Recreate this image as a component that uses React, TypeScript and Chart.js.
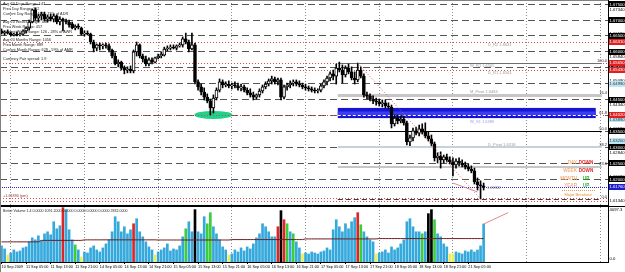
import React, { useEffect, useRef } from "react";
import { Chart, registerables } from "chart.js";
Chart.register(...registerables);

// ---------- hourly GBPUSD candles, 10 Sep 2009 21:00 -> 21 Sep 2009 10:00 ----------
const openP = [
  1.6666, 1.6659, 1.6663, 1.6659, 1.6653, 1.6656, 1.6653, 1.6656, 1.6666, 1.6675,
  1.6694, 1.6732, 1.6706, 1.6713, 1.6719, 1.6703, 1.6710, 1.6703, 1.6713, 1.6694,
  1.6703, 1.6697, 1.6694, 1.6688, 1.6675, 1.6681, 1.6675, 1.6656, 1.6659, 1.6656,
  1.6631, 1.6612, 1.6622, 1.6619, 1.6622, 1.6619, 1.6606, 1.6587, 1.6562, 1.6568,
  1.6549, 1.6543, 1.6546, 1.6540, 1.6600, 1.6622, 1.6587, 1.6578, 1.6562, 1.6575,
  1.6568, 1.6581, 1.6587, 1.6590, 1.6609, 1.6612, 1.6615, 1.6612, 1.6619, 1.6622,
  1.6641, 1.6631, 1.6609, 1.6622, 1.6506, 1.6490, 1.6474, 1.6458, 1.6446, 1.6424,
  1.6455, 1.6480, 1.6506, 1.6496, 1.6499, 1.6493, 1.6496, 1.6493, 1.6487, 1.6490,
  1.6480, 1.6471, 1.6465, 1.6458, 1.6465, 1.6477, 1.6490, 1.6499, 1.6509, 1.6515,
  1.6506, 1.6512, 1.6458, 1.6490, 1.6496, 1.6502, 1.6506, 1.6499, 1.6496, 1.6490,
  1.6487, 1.6484, 1.6480, 1.6477, 1.6480, 1.6493, 1.6506, 1.6518, 1.6531, 1.6524,
  1.6549, 1.6543, 1.6528, 1.6549, 1.6537, 1.6518, 1.6512, 1.6543, 1.6524, 1.6465,
  1.6462, 1.6452, 1.6446, 1.6443, 1.6437, 1.6440, 1.6430, 1.6427, 1.6374, 1.6392,
  1.6383, 1.6389, 1.6377, 1.6317, 1.6330, 1.6352, 1.6345, 1.6358, 1.6348, 1.6336,
  1.6327, 1.6311, 1.6267, 1.6273, 1.6261, 1.6270, 1.6261, 1.6254, 1.6245, 1.6257,
  1.6251, 1.6245, 1.6239, 1.6232, 1.6226, 1.6192, 1.6182, 1.6179,
];
const highP = [
  1.6672, 1.6666, 1.6669, 1.6663, 1.6659, 1.6663, 1.6659, 1.6669, 1.6678, 1.6700,
  1.6735, 1.6738, 1.6719, 1.6725, 1.6725, 1.6716, 1.6719, 1.6719, 1.6716, 1.6710,
  1.6706, 1.6703, 1.6700, 1.6694, 1.6685, 1.6688, 1.6678, 1.6666, 1.6666, 1.6659,
  1.6637, 1.6625, 1.6628, 1.6625, 1.6628, 1.6625, 1.6609, 1.6597, 1.6575, 1.6571,
  1.6556, 1.6553, 1.6556, 1.6606, 1.6631, 1.6625, 1.6593, 1.6587, 1.6581, 1.6581,
  1.6584, 1.6593, 1.6600, 1.6615, 1.6619, 1.6622, 1.6622, 1.6622, 1.6628, 1.6647,
  1.6659, 1.6637, 1.6659, 1.6628, 1.6512, 1.6499, 1.6487, 1.6468, 1.6452, 1.6465,
  1.6487, 1.6515, 1.6512, 1.6506, 1.6509, 1.6502, 1.6506, 1.6502, 1.6499, 1.6496,
  1.6487, 1.6484, 1.6474, 1.6468, 1.6484, 1.6496, 1.6506, 1.6515, 1.6524, 1.6521,
  1.6518, 1.6518, 1.6496, 1.6502, 1.6509, 1.6512, 1.6512, 1.6509, 1.6502, 1.6499,
  1.6493, 1.6490, 1.6487, 1.6484, 1.6499, 1.6512, 1.6524, 1.6537, 1.6543, 1.6562,
  1.6568, 1.6559, 1.6556, 1.6562, 1.6553, 1.6537, 1.6565, 1.6553, 1.6531, 1.6474,
  1.6468, 1.6462, 1.6455, 1.6452, 1.6449, 1.6449, 1.6440, 1.6433, 1.6402, 1.6402,
  1.6399, 1.6399, 1.6383, 1.6339, 1.6361, 1.6364, 1.6370, 1.6374, 1.6377, 1.6348,
  1.6339, 1.6317, 1.6283, 1.6286, 1.6276, 1.6279, 1.6270, 1.6267, 1.6264, 1.6267,
  1.6261, 1.6254, 1.6248, 1.6242, 1.6235, 1.6204, 1.6195, 1.6188,
];
const lowP = [
  1.6656, 1.6653, 1.6656, 1.6650, 1.6650, 1.6650, 1.6650, 1.6653, 1.6659, 1.6669,
  1.6691, 1.6700, 1.6694, 1.6700, 1.6697, 1.6694, 1.6697, 1.6694, 1.6688, 1.6685,
  1.6666, 1.6688, 1.6678, 1.6672, 1.6669, 1.6672, 1.6653, 1.6650, 1.6653, 1.6625,
  1.6600, 1.6603, 1.6606, 1.6609, 1.6612, 1.6600, 1.6581, 1.6559, 1.6553, 1.6543,
  1.6531, 1.6534, 1.6534, 1.6534, 1.6587, 1.6581, 1.6568, 1.6556, 1.6556, 1.6562,
  1.6565, 1.6578, 1.6581, 1.6587, 1.6603, 1.6606, 1.6609, 1.6606, 1.6615, 1.6615,
  1.6625, 1.6600, 1.6606, 1.6499, 1.6480, 1.6465, 1.6449, 1.6440, 1.6402, 1.6408,
  1.6449, 1.6474, 1.6487, 1.6490, 1.6487, 1.6484, 1.6487, 1.6480, 1.6477, 1.6474,
  1.6465, 1.6458, 1.6449, 1.6452, 1.6458, 1.6471, 1.6484, 1.6493, 1.6499, 1.6499,
  1.6496, 1.6449, 1.6452, 1.6480, 1.6487, 1.6493, 1.6493, 1.6490, 1.6484, 1.6480,
  1.6477, 1.6474, 1.6471, 1.6471, 1.6474, 1.6487, 1.6496, 1.6509, 1.6512, 1.6499,
  1.6537, 1.6502, 1.6521, 1.6531, 1.6512, 1.6499, 1.6506, 1.6518, 1.6458, 1.6452,
  1.6446, 1.6437, 1.6433, 1.6430, 1.6427, 1.6424, 1.6421, 1.6361, 1.6367, 1.6374,
  1.6377, 1.6370, 1.6308, 1.6305, 1.6320, 1.6339, 1.6336, 1.6342, 1.6330, 1.6320,
  1.6305, 1.6257, 1.6251, 1.6235, 1.6251, 1.6254, 1.6248, 1.6210, 1.6235, 1.6242,
  1.6239, 1.6232, 1.6226, 1.6220, 1.6185, 1.6166, 1.6138, 1.6166,
];
const closeP = [
  1.6659, 1.6663, 1.6659, 1.6653, 1.6656, 1.6653, 1.6656, 1.6666, 1.6675, 1.6694,
  1.6732, 1.6706, 1.6713, 1.6719, 1.6703, 1.6710, 1.6703, 1.6713, 1.6694, 1.6703,
  1.6697, 1.6694, 1.6685, 1.6675, 1.6681, 1.6678, 1.6656, 1.6659, 1.6656, 1.6631,
  1.6612, 1.6622, 1.6619, 1.6622, 1.6619, 1.6606, 1.6587, 1.6562, 1.6568, 1.6549,
  1.6543, 1.6546, 1.6540, 1.6600, 1.6622, 1.6587, 1.6578, 1.6562, 1.6575, 1.6568,
  1.6581, 1.6587, 1.6593, 1.6609, 1.6612, 1.6615, 1.6612, 1.6619, 1.6622, 1.6641,
  1.6631, 1.6609, 1.6622, 1.6506, 1.6490, 1.6474, 1.6458, 1.6446, 1.6424, 1.6455,
  1.6480, 1.6506, 1.6496, 1.6499, 1.6493, 1.6496, 1.6493, 1.6487, 1.6490, 1.6480,
  1.6471, 1.6465, 1.6458, 1.6465, 1.6477, 1.6490, 1.6499, 1.6509, 1.6515, 1.6506,
  1.6512, 1.6458, 1.6490, 1.6496, 1.6502, 1.6506, 1.6499, 1.6496, 1.6490, 1.6487,
  1.6484, 1.6480, 1.6477, 1.6480, 1.6493, 1.6506, 1.6518, 1.6531, 1.6524, 1.6549,
  1.6543, 1.6528, 1.6549, 1.6537, 1.6518, 1.6512, 1.6543, 1.6524, 1.6465, 1.6462,
  1.6452, 1.6446, 1.6443, 1.6437, 1.6440, 1.6430, 1.6427, 1.6374, 1.6392, 1.6383,
  1.6389, 1.6377, 1.6317, 1.6330, 1.6352, 1.6345, 1.6358, 1.6348, 1.6336, 1.6327,
  1.6311, 1.6267, 1.6273, 1.6261, 1.6270, 1.6261, 1.6254, 1.6245, 1.6257, 1.6251,
  1.6245, 1.6239, 1.6232, 1.6226, 1.6192, 1.6182, 1.6179, 1.6176,
];

// ---------- Better Volume ----------
const volumes = [
  1200, 975, 525, 675, 900, 750, 825, 1050, 1125, 1500,
  1800, 1650, 1950, 1575, 2100, 2250, 2025, 3000, 2475, 2700,
  4050, 3900, 2400, 1650, 1275, 900, 375, 750, 675, 1050,
  1200, 900, 750, 1050, 1350, 1650, 2250, 3375, 3000, 2250,
  2625, 2100, 2400, 2850, 3225, 2250, 1875, 1500, 1125, 900,
  525, 750, 900, 1050, 1350, 825, 975, 900, 1200, 1875,
  2475, 3000, 2250, 3900, 2250, 2100, 3375, 2850, 3675, 2625,
  2100, 1650, 1125, 900, 525, 600, 900, 750, 1050, 825,
  1125, 975, 1350, 1800, 2100, 2850, 2625, 2250, 1875, 1875,
  2625, 3825, 3150, 2850, 2250, 2100, 1500, 1050, 600, 675,
  600, 750, 675, 600, 750, 825, 1050, 900, 2400, 3150,
  2625, 2250, 2850, 2475, 3000, 3300, 3675, 2775, 2250, 1875,
  1650, 1500, 600, 675, 750, 900, 675, 1125, 900, 1050,
  1350, 1650, 3000, 3225, 2625, 2250, 2250, 2100, 2250, 3600,
  3900, 3150, 2100, 1875, 1350, 1125, 600, 600, 750, 675,
  600, 825, 750, 900, 750, 900, 1200, 2832,
];
// N normal, L low, R climax, G churn, K climax churn
const volTypes = [
  "NNLNNNNNNN", "NNNNNNNNNN", "RNNNGNLNNN", "NNNNNNNNNN", "NNNRNNNNNN",
  "LNNNNNNNNN", "GNNKNNNGGN", "NNNNLNNNNN", "NNNNNNNNNN", "RKRGNGNNLN",
  "NNNNNNNNNN", "NNNNNNRGNN", "NNLNNNNNNN", "NNNNNNNGNK", "KGNNNNLLNN",
  "NNNNNNNN",
].join("").split("");
const volAvg = [
  1500, 1500, 1500, 1500, 1500, 1500, 1500, 1500, 1500, 1500,
  1500, 1500, 1500, 1610, 1610, 1610, 1610, 1610, 1610, 1610,
  1610, 1610, 1610, 1610, 1610, 1610, 1610, 1650, 1650, 1650,
  1650, 1650, 1650, 1650, 1650, 1650, 1650, 1650, 1650, 1650,
  1650, 1650, 1650, 1650, 1650, 1650, 1650, 1650, 1650, 1650,
  1650, 1640, 1640, 1640, 1640, 1640, 1640, 1640, 1640, 1640,
  1640, 1640, 1640, 1640, 1640, 1640, 1640, 1640, 1640, 1640,
  1640, 1640, 1640, 1640, 1640, 1670, 1670, 1670, 1670, 1670,
  1670, 1670, 1670, 1670, 1670, 1670, 1670, 1670, 1670, 1670,
  1670, 1670, 1670, 1670, 1670, 1670, 1670, 1670, 1670, 1720,
  1720, 1720, 1720, 1720, 1720, 1720, 1720, 1720, 1720, 1720,
  1720, 1720, 1720, 1720, 1720, 1720, 1720, 1720, 1720, 1720,
  1720, 1720, 1720, 1745, 1745, 1745, 1745, 1745, 1745, 1745,
  1745, 1745, 1745, 1745, 1745, 1745, 1745, 1745, 1745, 1745,
  1745, 1745, 1745, 1745, 1745, 1745, 1745, 1745, 1745, 1745,
  1745, 1745, 1745, 1745, 1745, 1745, 1745, 1745,
];

// ---------- axis / level data ----------
const xTickLabels = [
  "10 Sep 2009", "11 Sep 05:00", "11 Sep 13:00", "11 Sep 21:00", "14 Sep 05:00",
  "14 Sep 13:00", "14 Sep 21:00", "15 Sep 05:00", "15 Sep 13:00", "15 Sep 21:00",
  "16 Sep 05:00", "16 Sep 13:00", "16 Sep 21:00", "17 Sep 05:00", "17 Sep 13:00",
  "17 Sep 21:00", "18 Sep 05:00", "18 Sep 13:00", "18 Sep 21:00", "21 Sep 05:00",
];
const gridLevels = [1.675, 1.67, 1.665, 1.66, 1.655, 1.65, 1.645, 1.64, 1.635, 1.63, 1.625, 1.62];
const scaleLevels = [1.6734, 1.6659, 1.6584, 1.6509, 1.6434, 1.6359, 1.6284, 1.6209, 1.6134];
const resLevels = [1.6631, 1.6565, 1.6543, 1.6402];
const lowDotLevels = [1.6141, 1.6132];
const pivotAxisLevels = [1.6499, 1.6389, 1.632];
const pivotNames = ["D_R2", "W_R1", "D_R1", "M_Pivot", "W_S1", "D_Pivot"];
const pivotPrices = [1.6631, 1.6565, 1.6543, 1.6484, 1.6389, 1.6318];
const fibRatios = [0, 23.6, 38.2, 50, 61.8, 76.4, 100];
const fibHighBar = 116;
const fibLowBar = 156;
const fibSpan = [109.5, 195.5];
const bandBars = [109.5, 193.5];
const bandPrices = [1.6424, 1.6392];
const trendLine = [[147, 1.6188], [155, 1.616]];
const volTrendLine = [[157, 2832], [165, 3680]];
const ellipseBar = 69;
const ellipseLowBar = 68;
const infoLines = [
  "Avg 20 Days Range: 147", "Prev Day Range: 102", "Current Day Range: 113 - 77% of ADR",
  "Avg 20 Weeks Range: 446", "Prev Week Range: 457", "Current Week Range: 126 - 28% of AWR",
  "Avg 20 Months Range: 1056", "Prev Month Range: 889", "Current Month Range: 628 - 59% of AMR",
  "Currency Pair spread: 1.9",
];
const trendWords = ["DAY", "WEEK", "MONTH", "YEAR"];
const trendStates = ["DOWN", "DOWN", "UP", "UP"];
const volHeader = "Better Volume 1.4 0.0000 1091.2000 0.0000 0.0000 0.0000 0.0000 2832.0000";
const PRICE_MAX = 1.6763;
const PRICE_MIN = 1.6119;
const VOL_MAX = 4097.3;
const N_SLOTS = 198;

const slotLabels = Array.from({ length: N_SLOTS }, (_, i) => i);
const FONT = '"Liberation Sans", Arial, sans-serif';
const f = (s: number, b = false) => `${b ? "bold " : ""}${s}px ${FONT}`;
const volColor: Record<string, string> = { N: "#35a8dc", L: "#eeee55", R: "#e02424", G: "#3ccc3c", K: "#000000" };
const dayGridColor = (c: any) => ((c.index - 3) % 24 === 0 ? "#8c8c8c" : "rgba(0,0,0,0)");

function hline(ctx: CanvasRenderingContext2D, x0: number, x1: number, y: number) {
  ctx.beginPath();
  ctx.moveTo(x0, y);
  ctx.lineTo(x1, y);
  ctx.stroke();
}
const snap = (v: number) => Math.round(v) + 0.5;

function axisLabel(ctx: CanvasRenderingContext2D, a: any, yy: number, text: string, bg: string | null, fg: string) {
  const x0 = a.right + 1;
  if (bg) {
    ctx.fillStyle = bg;
    ctx.fillRect(x0, Math.round(yy - 3), 16, 6);
  }
  ctx.fillStyle = fg;
  ctx.font = f(4.2);
  ctx.textAlign = "left";
  ctx.textBaseline = "middle";
  ctx.fillText(text, x0 + 0.5, yy + 0.3);
}

const fibStyle = (r: number) =>
  r === 100 ? { c: "#6e6e6e", w: 1, d: [] as number[] }
  : r === 76.4 ? { c: "#c6c6c6", w: 3, d: [] }
  : r === 61.8 ? { c: "#ffffff", w: 1, d: [3, 2] }
  : r === 50 ? { c: "#000000", w: 1, d: [] }
  : r === 38.2 ? { c: "#c4d2da", w: 2, d: [] }
  : r === 23.6 ? { c: "#c6c6c6", w: 2, d: [] }
  : { c: "#3c3c3c", w: 1, d: [5, 3] };

const mainOverlay = {
  id: "mainOverlay",
  beforeDatasetsDraw(chart: any) {
    const { ctx, chartArea: a } = chart;
    const x = chart.scales.x, y = chart.scales.y;
    const fibHigh = highP[fibHighBar], fibLow = lowP[fibLowBar];
    ctx.save();
    ctx.beginPath();
    ctx.rect(a.left, a.top, a.right - a.left, a.bottom - a.top);
    ctx.clip();
    // green ellipse at the 15 Sep low
    ctx.fillStyle = "#1ed28c";
    ctx.beginPath();
    ctx.ellipse(x.getPixelForValue(ellipseBar), y.getPixelForValue(lowP[ellipseLowBar]), 19, 4, 0, 0, Math.PI * 2);
    ctx.fill();
    // red dotted levels
    ctx.lineWidth = 1;
    ctx.strokeStyle = "#d24a4a";
    ctx.setLineDash([1, 2]);
    [...resLevels, ...lowDotLevels].forEach((p) => hline(ctx, a.left, a.right, snap(y.getPixelForValue(p))));
    // blue zone
    ctx.setLineDash([]);
    const bx0 = x.getPixelForValue(bandBars[0]), bx1 = x.getPixelForValue(bandBars[1]);
    const by0 = y.getPixelForValue(bandPrices[0]), by1 = y.getPixelForValue(bandPrices[1]);
    ctx.fillStyle = "#1616d2";
    ctx.fillRect(bx0, by0, bx1 - bx0, by1 - by0);
    ctx.fillStyle = "#3c3cf4";
    ctx.fillRect(bx0, by0 + (by1 - by0) * 0.35, bx1 - bx0, (by1 - by0) * 0.35);
    // fibonacci levels
    const fx0 = x.getPixelForValue(fibSpan[0]), fx1 = x.getPixelForValue(fibSpan[1]);
    fibRatios.forEach((r) => {
      const st = fibStyle(r);
      const p = fibLow + ((fibHigh - fibLow) * r) / 100;
      ctx.strokeStyle = st.c;
      ctx.lineWidth = st.w;
      ctx.setLineDash(st.d);
      const yy = st.w % 2 ? snap(y.getPixelForValue(p)) : Math.round(y.getPixelForValue(p));
      hline(ctx, fx0, fx1, yy);
    });
    // bid line
    ctx.strokeStyle = "#2a2ac8";
    ctx.lineWidth = 1;
    ctx.setLineDash([1, 1]);
    hline(ctx, a.left, a.right, snap(y.getPixelForValue(closeP[closeP.length - 1])));
    ctx.restore();
  },
  afterDatasetsDraw(chart: any) {
    const { ctx, chartArea: a } = chart;
    const x = chart.scales.x, y = chart.scales.y;
    const fibHigh = highP[fibHighBar], fibLow = lowP[fibLowBar];
    ctx.save();
    ctx.beginPath();
    ctx.rect(a.left, a.top, a.right - a.left, a.bottom - a.top);
    ctx.clip();
    // fibonacci diagonal
    ctx.strokeStyle = "#d06060";
    ctx.lineWidth = 1;
    ctx.setLineDash([1, 2]);
    ctx.beginPath();
    ctx.moveTo(x.getPixelForValue(fibHighBar), y.getPixelForValue(fibHigh));
    ctx.lineTo(x.getPixelForValue(fibLowBar), y.getPixelForValue(fibLow));
    ctx.stroke();
    // pink trend line
    ctx.setLineDash([]);
    ctx.strokeStyle = "#e08a8a";
    ctx.beginPath();
    ctx.moveTo(x.getPixelForValue(trendLine[0][0]), y.getPixelForValue(trendLine[0][1]));
    ctx.lineTo(x.getPixelForValue(trendLine[1][0]), y.getPixelForValue(trendLine[1][1]));
    ctx.stroke();

    // info block
    ctx.textAlign = "left";
    ctx.textBaseline = "alphabetic";
    ctx.font = f(3.8);
    ctx.fillStyle = "#1e1e1e";
    const infoY = [5, 10, 15, 23, 28, 33, 41, 46, 51, 60];
    infoLines.forEach((t, i) => ctx.fillText(t, 3, infoY[i]));

    // pivot labels
    ctx.font = f(4);
    ctx.textBaseline = "top";
    pivotNames.forEach((n, i) => {
      ctx.fillStyle = n === "W_S1" ? "#9a9ae8" : "#9a9a9a";
      const lx = n.startsWith("D_") ? 488 : 470;
      ctx.fillText(`${n} ${pivotPrices[i].toFixed(4)}`, lx, y.getPixelForValue(pivotPrices[i]) + 1);
    });

    // fibonacci labels
    ctx.fillStyle = "#2a2a2a";
    ctx.textAlign = "right";
    ctx.textBaseline = "bottom";
    fibRatios.forEach((r) => {
      const p = fibLow + ((fibHigh - fibLow) * r) / 100;
      ctx.fillText(r.toFixed(1), a.right - 1, y.getPixelForValue(p) - 0.5);
    });

    // trend status block
    ctx.textBaseline = "alphabetic";
    trendWords.forEach((w, i) => {
      const by = 164 + i * 7.8;
      ctx.font = f(4.6, true);
      ctx.textAlign = "right";
      ctx.fillStyle = "#f2b07c";
      ctx.fillText(w, 577, by);
      ctx.textAlign = "center";
      ctx.fillStyle = trendStates[i] === "DOWN" ? "#e02828" : "#2cb82c";
      ctx.fillText(trendStates[i], 586, by);
    });
    ctx.font = f(4);
    ctx.textAlign = "center";
    ctx.fillStyle = "#e8902a";
    ctx.fillText("Major Breakout", 578, 195.5);
    ctx.strokeStyle = "#e8a050";
    ctx.setLineDash([1, 1]);
    hline(ctx, 562, 595, 190.5);

    // misc labels
    ctx.setLineDash([]);
    ctx.textAlign = "left";
    ctx.font = f(3.8);
    ctx.fillStyle = "#9b3030";
    ctx.fillText("+1.61890 (pm)", 3, 197);
    ctx.fillStyle = "#7a7a7a";
    ctx.fillText("1.61822", 487, 188.5);
    ctx.restore();
  },
  afterDraw(chart: any) {
    const { ctx, chartArea: a } = chart;
    const y = chart.scales.y;
    ctx.save();
    ctx.strokeStyle = "#000";
    ctx.lineWidth = 1;
    ctx.beginPath();
    ctx.moveTo(a.right + 0.5, 0);
    ctx.lineTo(a.right + 0.5, chart.height);
    ctx.stroke();
    hline(ctx, 0, a.right, chart.height - 0.5);
    ctx.strokeStyle = "#808080";
    ctx.beginPath();
    ctx.moveTo(0.5, 0);
    ctx.lineTo(0.5, chart.height);
    ctx.stroke();
    hline(ctx, 0, a.right, 0.5);
    scaleLevels.forEach((p) => axisLabel(ctx, a, y.getPixelForValue(p), p.toFixed(5), null, "#000"));
    gridLevels.forEach((p) => axisLabel(ctx, a, y.getPixelForValue(p), p.toFixed(5), "#000", "#fff"));
    pivotAxisLevels.forEach((p) => axisLabel(ctx, a, y.getPixelForValue(p), p.toFixed(5), "#bfe4f2", "#204050"));
    resLevels.forEach((p) => axisLabel(ctx, a, y.getPixelForValue(p), p.toFixed(5), "#e02020", "#fff"));
    const last = closeP[closeP.length - 1];
    axisLabel(ctx, a, y.getPixelForValue(last), last.toFixed(5), "#1c1cd0", "#fff");
    ctx.restore();
  },
};

const volOverlay = {
  id: "volOverlay",
  afterDatasetsDraw(chart: any) {
    const { ctx, chartArea: a } = chart;
    const x = chart.scales.x, y = chart.scales.y;
    ctx.save();
    ctx.strokeStyle = "#e08a8a";
    ctx.lineWidth = 1;
    ctx.beginPath();
    ctx.moveTo(x.getPixelForValue(volTrendLine[0][0]), y.getPixelForValue(volTrendLine[0][1]));
    ctx.lineTo(x.getPixelForValue(volTrendLine[1][0]), y.getPixelForValue(volTrendLine[1][1]));
    ctx.stroke();
    ctx.font = f(3.6);
    ctx.fillStyle = "#1e1e1e";
    ctx.textAlign = "left";
    ctx.textBaseline = "alphabetic";
    ctx.fillText(volHeader, 3, a.top + 5);
    ctx.restore();
  },
  afterDraw(chart: any) {
    const { ctx, chartArea: a } = chart;
    const y = chart.scales.y;
    ctx.save();
    ctx.strokeStyle = "#000";
    ctx.lineWidth = 1;
    hline(ctx, 0, chart.width, 0.5);
    hline(ctx, 0, a.right, snap(a.bottom));
    ctx.beginPath();
    ctx.moveTo(a.right + 0.5, 0);
    ctx.lineTo(a.right + 0.5, a.bottom + 1);
    ctx.stroke();
    ctx.strokeStyle = "#808080";
    ctx.beginPath();
    ctx.moveTo(0.5, 0);
    ctx.lineTo(0.5, chart.height);
    ctx.stroke();
    axisLabel(ctx, a, y.getPixelForValue(VOL_MAX) + 3, VOL_MAX.toFixed(1), null, "#000");
    axisLabel(ctx, a, y.getPixelForValue(0) - 3, "0.0", null, "#000");
    ctx.restore();
  },
};

export default function App() {
  const mainRef = useRef<HTMLCanvasElement>(null);
  const volRef = useRef<HTMLCanvasElement>(null);

  useEffect(() => {
    const bodyColors = openP.map((o, i) => (closeP[i] >= o ? "#ffffff" : "#000000"));
    const main = new Chart(mainRef.current as HTMLCanvasElement, {
      type: "bar",
      data: {
        labels: slotLabels,
        datasets: [
          {
            label: "wick",
            data: lowP.map((l, i) => [l, highP[i]]),
            backgroundColor: "#000",
            barThickness: 1,
            grouped: false,
            order: 2,
          },
          {
            label: "body",
            data: openP.map((o, i) => [o, closeP[i]]),
            backgroundColor: bodyColors,
            borderColor: "#000",
            borderWidth: 1,
            borderSkipped: false,
            barThickness: 3,
            minBarLength: 1,
            grouped: false,
            order: 1,
          },
        ],
      } as any,
      options: {
        responsive: false,
        animation: false,
        events: [],
        layout: { padding: { top: 0, bottom: 1, left: 0, right: 0 } },
        plugins: { legend: { display: false }, tooltip: { enabled: false } },
        scales: {
          x: {
            offset: true,
            ticks: { display: false, autoSkip: false },
            grid: { offset: false, drawTicks: false, color: dayGridColor, lineWidth: 1 },
            border: { display: false, dash: [1, 2] },
            afterFit: (s: any) => { s.height = 0; },
          },
          y: {
            position: "right",
            min: PRICE_MIN,
            max: PRICE_MAX,
            afterBuildTicks: (s: any) => { s.ticks = gridLevels.map((v) => ({ value: v })); },
            ticks: { display: false },
            grid: { color: "#555555", drawTicks: false, lineWidth: 1 },
            border: { display: false, dash: [7, 4] },
            afterFit: (s: any) => { s.width = 17; },
          },
        },
      } as any,
      plugins: [mainOverlay],
    });

    const vol = new Chart(volRef.current as HTMLCanvasElement, {
      type: "bar",
      data: {
        labels: slotLabels,
        datasets: [
          {
            type: "line",
            data: volAvg,
            borderColor: "#6e1c1c",
            borderWidth: 1,
            pointRadius: 0,
            order: 0,
          },
          {
            type: "bar",
            data: volumes,
            backgroundColor: volTypes.map((t) => volColor[t]),
            barThickness: 2,
            order: 1,
          },
        ],
      } as any,
      options: {
        responsive: false,
        animation: false,
        events: [],
        layout: { padding: { top: 1, bottom: 0, left: 0, right: 0 } },
        plugins: { legend: { display: false }, tooltip: { enabled: false } },
        scales: {
          x: {
            offset: true,
            ticks: {
              display: true,
              autoSkip: false,
              maxRotation: 0,
              minRotation: 0,
              align: "start",
              padding: 1,
              color: "#000",
              font: { size: 3.8, family: FONT },
              callback: (_v: any, i: number) =>
                i % 8 === 0 && i / 8 < xTickLabels.length ? xTickLabels[i / 8] : "",
            },
            grid: {
              offset: false,
              drawTicks: true,
              tickLength: 2,
              tickColor: (c: any) => (c.index % 8 === 0 && c.index / 8 < xTickLabels.length ? "#000" : "rgba(0,0,0,0)"),
              color: dayGridColor,
            },
            border: { display: false, dash: [1, 2] },
            afterFit: (s: any) => { s.height = 10; },
          },
          y: {
            position: "right",
            min: 0,
            max: VOL_MAX,
            ticks: { display: false },
            grid: { display: false },
            border: { display: false },
            afterFit: (s: any) => { s.width = 17; },
          },
        },
      } as any,
      plugins: [volOverlay],
    });

    return () => {
      main.destroy();
      vol.destroy();
    };
  }, []);

  return (
    <div style={{ position: "absolute", left: 0, top: 0, width: 625, height: 272, background: "#fff", overflow: "hidden" }}>
      <canvas ref={mainRef} width={625} height={206} style={{ display: "block" }} />
      <canvas ref={volRef} width={625} height={66} style={{ display: "block" }} />
    </div>
  );
}
